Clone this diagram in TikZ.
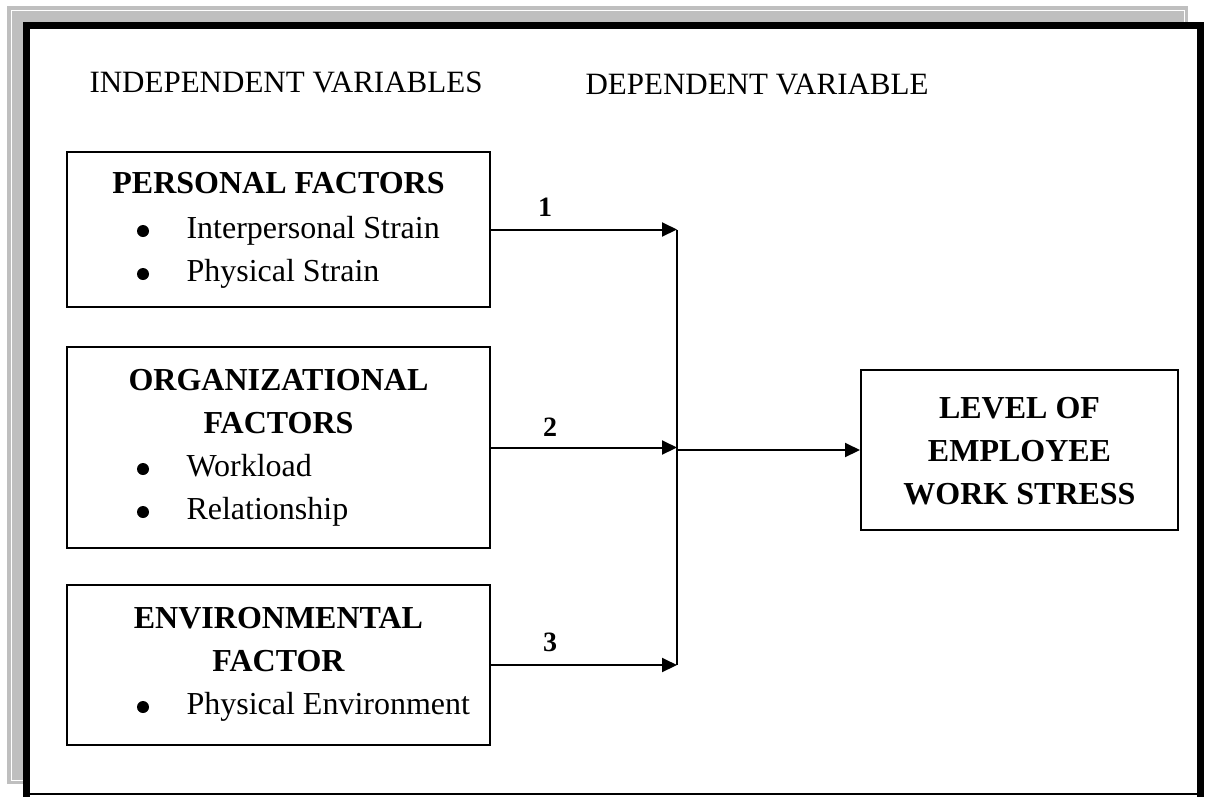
\documentclass[tikz,border=0pt]{standalone}
\usepackage{fontspec}
\setmainfont{Liberation Serif}
\usetikzlibrary{arrows.meta}

\tikzset{
  factorbox/.style={draw, line width=2pt, minimum width=423pt},
  headtext/.style={font=\fontsize{32}{38}\selectfont\bfseries, anchor=base},
  itemtext/.style={font=\fontsize{32}{38}\selectfont, anchor=base west},
  vartext/.style={font=\fontsize{31}{36}\selectfont, anchor=base west},
  numtext/.style={font=\fontsize{28}{32}\selectfont\bfseries},
  arr/.style={-{Triangle[length=15pt,width=14pt]}, line width=2pt}
}

\begin{document}
\begin{tikzpicture}[x=1pt, y=-1pt]
        \useasboundingbox (0,0) rectangle (1206,796);

        % Shadow frame
        \fill[black!25] (7,6) rectangle (1188,784);
        \draw[white, line width=1pt] (11,10) rectangle (1184,780);
        \fill[white] (26.5,25.5) rectangle (1200,794);
        \draw[line width=7pt] (26.5,797) -- (26.5,25.5) -- (1200,25.5) -- (1200,797);
        \draw[line width=2pt] (26.5,794) -- (1200,794);

        % Headings
        \node[vartext] (indep) at (86,92) {INDEPENDENT VARIABLES};
        \node[vartext] (dep) at (582,94) {DEPENDENT VARIABLE};

        % Personal factors
        \node[factorbox, minimum height=155pt] (pers) at (278.5,229.5) {};
        \node[headtext] (pershead) at (278.5,193) {PERSONAL FACTORS};
        \fill (143,231) circle[radius=6pt];
        \node[itemtext] (persa) at (183,238) {Interpersonal Strain};
        \fill (143,274) circle[radius=6pt];
        \node[itemtext] (persb) at (183,281) {Physical Strain};

        % Organizational factors
        \node[factorbox, minimum height=201pt] (org) at (278.5,447.5) {};
        \node[headtext] (orghead) at (278.5,390) {ORGANIZATIONAL};
        \node[headtext] (orgheadb) at (278.5,433) {FACTORS};
        \fill (143,469) circle[radius=6pt];
        \node[itemtext] (orga) at (183,476) {Workload};
        \fill (143,512) circle[radius=6pt];
        \node[itemtext] (orgb) at (183,519) {Relationship};

        % Environmental factor
        \node[factorbox, minimum height=160pt] (env) at (278.5,665) {};
        \node[headtext] (envhead) at (278.5,628) {ENVIRONMENTAL};
        \node[headtext] (envheadb) at (278.5,671) {FACTOR};
        \fill (143,707) circle[radius=6pt];
        \node[itemtext] (enva) at (183,714) {Physical Environment};

        % Work stress
        \node[draw, line width=2pt, minimum width=317pt, minimum height=160pt] (stress) at (1019.5,450) {};
        \node[headtext] (stressa) at (1019.5,418) {LEVEL OF};
        \node[headtext] (stressb) at (1019.5,461) {EMPLOYEE};
        \node[headtext] (stressc) at (1019.5,504) {WORK STRESS};

        % Arrows
        \coordinate (jn) at (677,450);
        \draw[line width=2pt] (jn |- pers.east) -- (jn |- env.east);
        \draw[arr] (pers.east) -- (pers.east -| jn);
        \draw[arr] (org.east) -- (org.east -| jn);
        \draw[arr] (env.east) -- (env.east -| jn);
        \draw[arr] (jn) -- (stress.west);
        \node[numtext] (one) at (545,207) {1};
        \node[numtext] (two) at (550,427) {2};
        \node[numtext] (three) at (550,642) {3};
\end{tikzpicture}
\end{document}
